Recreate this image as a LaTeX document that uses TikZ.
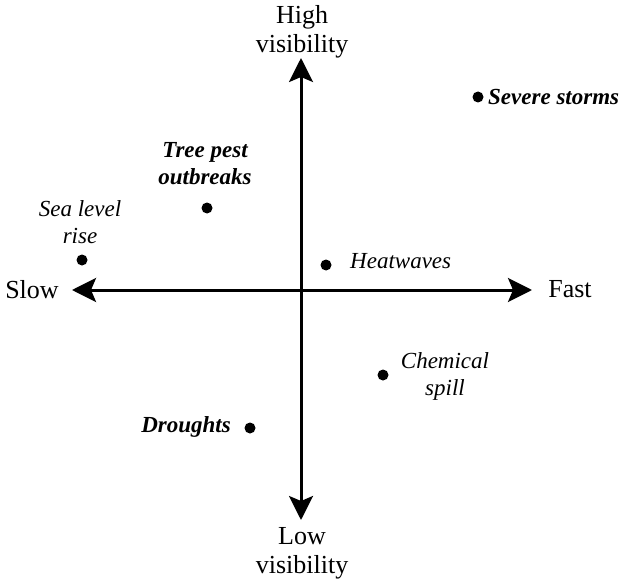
\documentclass[tikz,border=0pt]{standalone}
\usepackage{fontspec}
\setmainfont{Liberation Serif}
\usetikzlibrary{arrows.meta}
\begin{document}
\begin{tikzpicture}[x=1pt,y=-1pt,
  axis/.style={line width=3pt,{Stealth[length=24pt,width=24pt,inset=5pt]}-{Stealth[length=24pt,width=24pt,inset=5pt]}},
  axlabel/.style={inner sep=0pt,align=center,font=\fontsize{26}{29}\selectfont},
  ptlabel/.style={inner sep=0pt,align=center,font=\fontsize{23}{27}\selectfont\itshape},
  bptlabel/.style={ptlabel,font=\fontsize{23}{27}\selectfont\bfseries\itshape},
  dot/.style={circle,fill=black,inner sep=0pt,minimum size=11pt}]
\useasboundingbox (0,0) rectangle (624,583);
% axis ends
\coordinate (top) at (301,58);
\coordinate (bottom) at (301,520);
\coordinate (left) at (72,290);
\coordinate (right) at (532,290);
\draw[axis] (bottom) -- (top);
\draw[axis] (left) -- (right);
% axis labels
\node[axlabel] (high) at (302,32) {High\\visibility};
\node[axlabel] (low) at (302,553) {Low\\visibility};
\node[axlabel] (slow) at (32,290) {Slow};
\node[axlabel] (fast) at (570,289) {Fast};
% points
\node[dot] (storms) at (478,97) {};
\node[bptlabel,anchor=base west] (stormsl) at (488,105) {Severe storms};
\node[dot] (pest) at (207,208) {};
\node[bptlabel] (pestl) at (205,164) {Tree pest\\outbreaks};
\node[dot] (sea) at (82,260) {};
\node[ptlabel] (seal) at (80,222) {Sea level\\rise};
\node[dot] (heat) at (326,265) {};
\node[ptlabel,anchor=base west] (heatl) at (350,268) {Heatwaves};
\node[dot] (chem) at (383,375) {};
\node[ptlabel] (cheml) at (445,376) {Chemical\\spill};
\node[dot] (drought) at (250,428) {};
\node[bptlabel] (droughtl) at (186,427) {Droughts};
\end{tikzpicture}
\end{document}
